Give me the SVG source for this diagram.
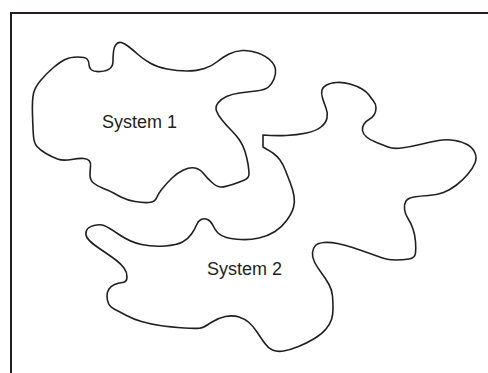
<svg xmlns="http://www.w3.org/2000/svg" width="488" height="373" viewBox="0 0 488 373">
<style>
.blob{fill:none;stroke:#231f20;stroke-width:1.6;stroke-linejoin:round}
.frame{fill:none;stroke:#231f20;stroke-width:2}
.lbl{font-family:"Liberation Sans",Arial,sans-serif;font-size:18px;fill:#231f20}
</style>
<rect width="488" height="373" fill="#ffffff"/>
<path class="frame" d="M11 373 V13 H488"/>
<g id="system1">
<path class="blob" d="M65 59.5 Q70 57 77.5 57 Q85 57 87 59 Q89 61 89 64.5 Q89 68 91.5 70 Q94 72 100.5 71.5 Q107 71 110 68.5 Q113 66 113 61 Q113 56 113.5 51.5 Q114 47 116 44.5 Q118 42 121 42.5 Q124 43 128.5 46.5 Q133 50 138 54.5 Q143 59 150 63 Q157 67 167 69 Q177 71 187 71 Q197 71 204.5 68.5 Q212 66 217.5 61.5 Q223 57 229 54 Q235 51 242.5 50.5 Q250 50 258 53 Q266 56 270.5 60.5 Q275 65 275.5 69.5 Q276 74 274 79 Q272 84 268.5 87 Q265 90 256 91 Q247 92 239.5 93 Q232 94 226.5 96.5 Q221 99 218 103 Q215 107 216.5 111 Q218 115 222 120 Q226 125 231 130 Q236 135 239.5 140 Q243 145 245 151.5 Q247 158 248 164 Q249 170 249 174 Q249 178 244.5 180 Q240 182 232.5 184.5 Q225 187 221 187 Q217 187 212 182.5 Q207 178 203.5 173.5 Q200 169 195 168 Q190 167 183.5 170 Q177 173 171.5 178.5 Q166 184 162 189 Q158 194 156.5 198 Q155 202 149 202.5 Q143 203 135 201.5 Q127 200 122 197.5 Q117 195 113.5 193 Q110 191 103.5 188.5 Q97 186 93.5 183 Q90 180 90 175 Q90 170 90.5 166.5 Q91 163 89.5 161 Q88 159 84 158.5 Q80 158 71.5 159.5 Q63 161 57.5 159 Q52 157 46 153.5 Q40 150 37 146.5 Q34 143 33.5 136.5 Q33 130 32.5 115 Q32 100 33.5 93.5 Q35 87 41 80 Q47 73 53.5 67.5 Q60 62 65 59.5 Z"/>
<text class="lbl" x="102" y="128">System 1</text>
</g>
<g id="system2">
<path class="blob" d="M263 135 Q275 136 286 135.5 Q297 135 306.5 133 Q316 131 321 127 Q326 123 327 118 Q328 113 326 108 Q324 103 322.5 98 Q321 93 322 90 Q323 87 326.5 85 Q330 83 336.5 82.5 Q343 82 350 84 Q357 86 362 89 Q367 92 369 95 Q371 98 373.5 101 Q376 104 376 108 Q376 112 374 115 Q372 118 369 119.5 Q366 121 364 124 Q362 127 362.5 130.5 Q363 134 366.5 137 Q370 140 376.5 142.5 Q383 145 388 147 Q393 149 401.5 148 Q410 147 420 144.5 Q430 142 438.5 140.5 Q447 139 455 140.5 Q463 142 468 145 Q473 148 475 153 Q477 158 475 163 Q473 168 468 174 Q463 180 456.5 185 Q450 190 443.5 192.5 Q437 195 428.5 195.5 Q420 196 414 197 Q408 198 406 201 Q404 204 404.5 209 Q405 214 408 218.5 Q411 223 413 229 Q415 235 415.5 241.5 Q416 248 415.5 253 Q415 258 409 259 Q403 260 395.5 260 Q388 260 382.5 258 Q377 256 368.5 253 Q360 250 352.5 247.5 Q345 245 337.5 243.5 Q330 242 324 242.5 Q318 243 315.5 245.5 Q313 248 312.5 252.5 Q312 257 314.5 262 Q317 267 321.5 273 Q326 279 329 284.5 Q332 290 332.5 296 Q333 302 333 308.5 Q333 315 331.5 319.5 Q330 324 326 329 Q322 334 314.5 338.5 Q307 343 298.5 346.5 Q290 350 283.5 351 Q277 352 272.5 350 Q268 348 264.5 343 Q261 338 257 332 Q253 326 249 322.5 Q245 319 239 317 Q233 315 225.5 316.5 Q218 318 212 322 Q206 326 202.5 327.5 Q199 329 184.5 328 Q170 327 160 325.5 Q150 324 141.5 321.5 Q133 319 126.5 315.5 Q120 312 115 309.5 Q110 307 108.5 303.5 Q107 300 107 296 Q107 292 109 289 Q111 286 114.5 284.5 Q118 283 122.5 282.5 Q127 282 127 277 Q127 272 124 268 Q121 264 116.5 260.5 Q112 257 106 253 Q100 249 94.5 245 Q89 241 87 237.5 Q85 234 86.5 230.5 Q88 227 94 225.5 Q100 224 104 225.5 Q108 227 119 234.5 Q130 242 141.5 244.5 Q153 247 165 246 Q177 245 182.5 242 Q188 239 191.5 234 Q195 229 196.5 225 Q198 221 201 219.5 Q204 218 207.5 219.5 Q211 221 213 225.5 Q215 230 218 233 Q221 236 226.5 237.5 Q232 239 241 239.5 Q250 240 259 238 Q268 236 275 231.5 Q282 227 287 220 Q292 213 293.5 207.5 Q295 202 294 196 Q293 190 290.5 183.5 Q288 177 285.5 170.5 Q283 164 280 160 Q277 156 273.5 153.5 Q270 151 263 147 L263 135 Z"/>
<text class="lbl" x="207" y="275">System 2</text>
</g>
</svg>
